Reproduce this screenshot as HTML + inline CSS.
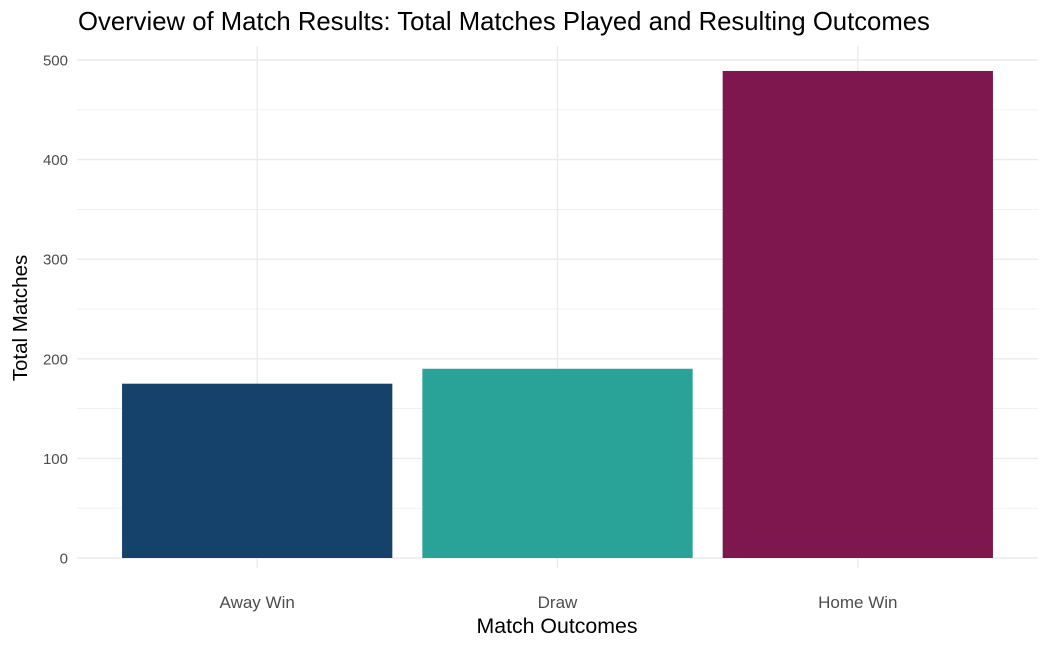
<!DOCTYPE html>
<html><head><meta charset="utf-8"><style>
body{margin:0;background:#fff;}
svg{display:block;font-family:"Liberation Sans",sans-serif;}
</style></head><body>
<svg id="chart" width="1050" height="648">
<text x="78" y="30" font-size="25.7" fill="#000">Overview of Match Results: Total Matches Played and Resulting Outcomes</text>
<g id="grid"></g><g id="bars"></g><g id="axes"></g>
<text x="557" y="633" font-size="21.3" text-anchor="middle" fill="#000">Match Outcomes</text>
<text transform="translate(27,318) rotate(-90)" font-size="20.5" text-anchor="middle" fill="#000">Total Matches</text>
</svg>
<script>
const categories = ["Away Win", "Draw", "Home Win"];
const values = [175, 190, 489];
const colors = ["#15426b", "#29a398", "#7e174e"];
const yTicks = [0, 100, 200, 300, 400, 500];
const yMinor = [50, 150, 250, 350, 450];

const ns = "http://www.w3.org/2000/svg";
const x0 = 77, x1 = 1038, yTop = 46, yBot = 582;
const y = v => 558 - v * 0.996;
const step = (x1 - x0) / (categories.length + 0.2);
const xc = i => x0 + step * (i + 0.6);
function mk(tag, attrs, parent) {
  const e = document.createElementNS(ns, tag);
  for (const k in attrs) e.setAttribute(k, attrs[k]);
  parent.appendChild(e); return e;
}
const grid = document.getElementById("grid"), bars = document.getElementById("bars"), axes = document.getElementById("axes");
yMinor.forEach(v => {
  const l = mk("line", {x1: x0, x2: x1, y1: y(v), y2: y(v), stroke: "#ebebeb", "stroke-width": 0.7}, grid);
  
  
});
yTicks.forEach(v => {
  const l = mk("line", {x1: x0, x2: x1, y1: y(v), y2: y(v), stroke: "#ebebeb", "stroke-width": 1.4}, grid);
  
  
  const t = mk("text", {x: 68, y: y(v) + 5.5, "text-anchor": "end", "font-size": 15, fill: "#4d4d4d"}, axes);
  t.textContent = v;
  
  
});
categories.forEach((c, i) => {
  const l = mk("line", {x1: xc(i), x2: xc(i), y1: yTop, y2: yBot - 14, stroke: "#ebebeb", "stroke-width": 1.4}, grid);
  
  
  const w = step * 0.9;
  const r = mk("rect", {x: xc(i) - w / 2, y: y(values[i]), width: w, height: y(0) - y(values[i]), fill: colors[i]}, bars);
  
  
  const t = mk("text", {x: xc(i), y: 608, "text-anchor": "middle", "font-size": 17, fill: "#4d4d4d"}, axes);
  t.textContent = c;
  
  
});
</script>
</body></html>
